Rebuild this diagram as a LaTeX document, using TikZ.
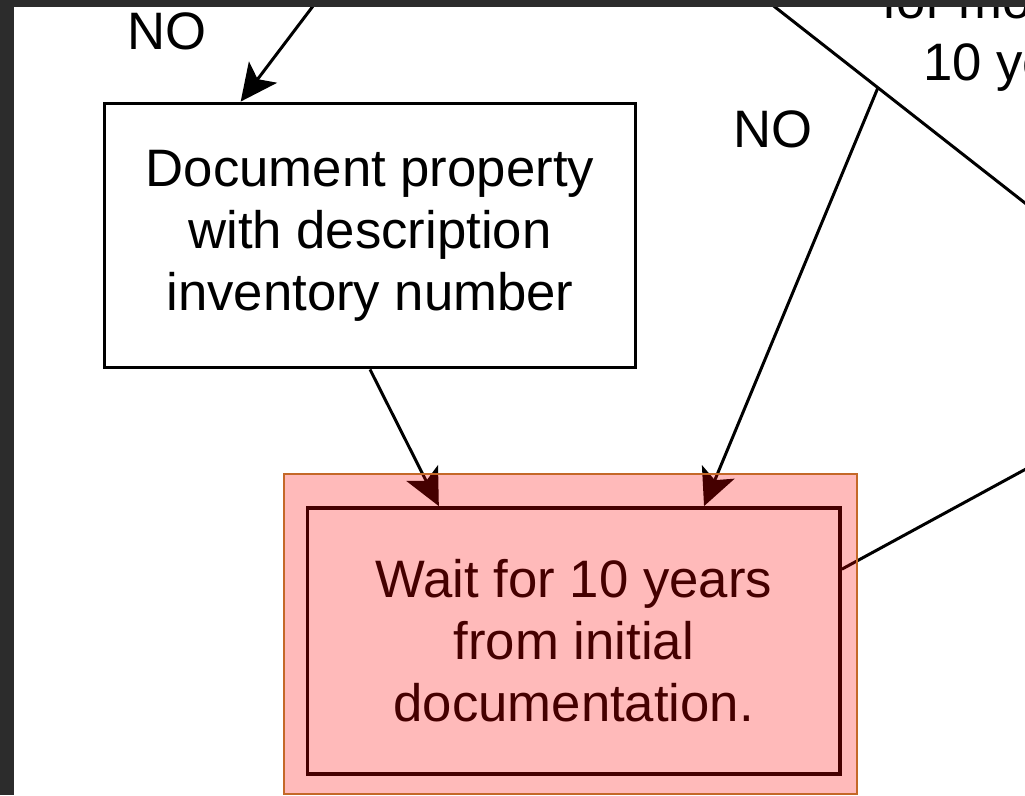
\documentclass[tikz,border=0pt]{standalone}
\usepackage{fontspec}
\setmainfont{Liberation Sans}
\usetikzlibrary{arrows.meta,calc}

\definecolor{framegray}{RGB}{44,44,44}
\definecolor{markedge}{RGB}{196,104,40}

\tikzset{
  flowbox/.style={draw=black, line width=2.2pt, fill=white, align=center, inner sep=0pt, font=\fontsize{30}{35.3}\selectfont},
  flowtext/.style={align=center, inner sep=0pt, font=\fontsize{30}{35.3}\selectfont},
  flowline/.style={line width=1.7pt},
  flowarrow/.style={flowline, -{Stealth[length=21pt,width=20pt,inset=5pt]}},
}

\begin{document}
\begin{tikzpicture}[x=0.02cm, y=-0.02cm]
    \useasboundingbox (0,0) rectangle (1025,795);
    \clip (0,0) rectangle (1025,795);
    \fill[white] (0,0) rectangle (1025,795);

%decision
    \coordinate (qleft) at (731.6,-27);
    \coordinate (qbottom) at (1039,214);
    \draw[flowline] (qleft) -- (qbottom);
    \coordinate (qno) at ($(qleft)!0.476!(qbottom)$);
    \node[flowtext] (question) at (1039,35.5) {for more than\\10 years?};

%boxes
    \node[flowbox, minimum width=10.62cm, minimum height=5.28cm] (document) at (370,235.5) {Document property\\with description\\inventory number};
    \node[flowbox, minimum width=10.65cm, minimum height=5.32cm] (wait) at (573.75,641) {Wait for 10 years\\from initial\\documentation.};

%labels
    \node[flowtext] (no1) at (167,31.4) {NO};
    \node[flowtext] (no2) at (773,129.4) {NO};

%edges
    \coordinate (docin) at (360,-56);
    \coordinate (waitout) at (1100,428.7);
    \draw[flowarrow] (docin) -- (document.134);
    \draw[flowarrow] (document.south) -- (wait.135);
    \draw[flowarrow] (qno) -- (wait.46);
    \draw[flowline] (wait.15) -- (waitout);

%highlight
    \draw[markedge, line width=1.2pt, fill=red, fill opacity=0.27] (284,474) rectangle (857,794);

%frame
    \fill[framegray] (0,0) rectangle (14,795);
    \fill[framegray] (0,0) rectangle (1025,7);
\end{tikzpicture}
\end{document}
